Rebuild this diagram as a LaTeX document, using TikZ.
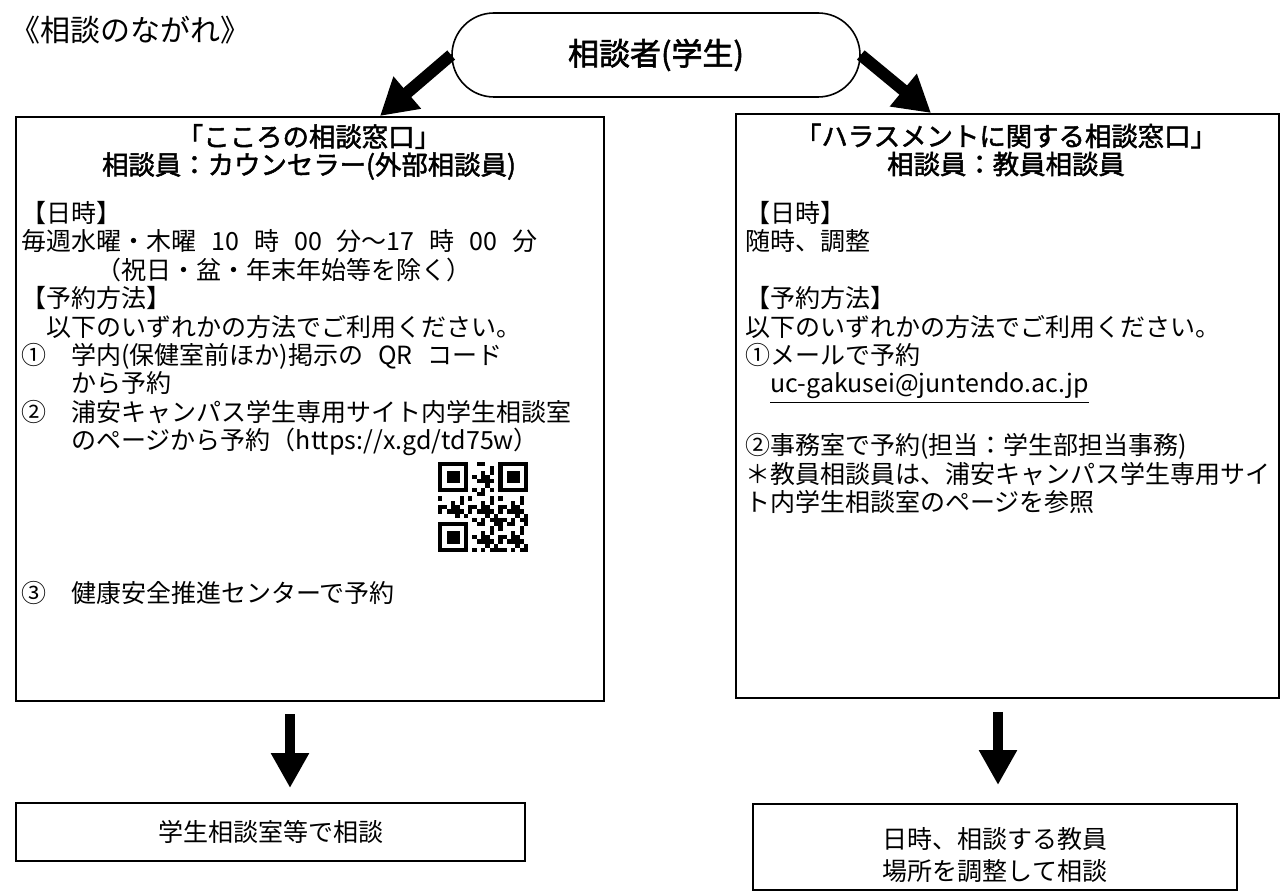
\documentclass[tikz,border=0pt]{standalone}
\usepackage{fontspec}
\setmainfont{Noto Sans CJK JP}
\newfontfamily\headfont[FakeBold=1.8]{Noto Sans CJK JP}
\usetikzlibrary{positioning,arrows.meta,shapes.misc}

\newcommand{\wsp}{\hspace{0.6em}}

\begin{document}
\begin{tikzpicture}[x=0.5pt, y=-0.5pt,
  every node/.style={inner sep=0pt},
  panel/.style={draw, line width=1pt, anchor=north west},
  headtext/.style={align=center, font=\fontsize{13.2}{14}\headfont},
  bodytext/.style={align=left, anchor=north west, font=\fontsize{12.5}{14.2}\selectfont},
  bigarrow/.style={line width=6pt, -{Triangle[width=20pt,length=18pt]}},
  downarrow/.style={line width=5pt, -{Triangle[width=18pt,length=17.5pt]}},
]
  \useasboundingbox (0,0) rectangle (1280,892);

  \node[anchor=west, font=\fontsize{15}{17}\selectfont] (title) at (10,30) {《相談のながれ》};
  \node[draw, rounded rectangle, line width=0.8pt, minimum width=204pt, minimum height=42pt,
    font=\fontsize{15.5}{17}\headfont] (person) at (656,55) {相談者(学生)};

  \node[panel, minimum width=294pt, minimum height=292pt] (kbox) at (15,116) {};
  \node[panel, minimum width=271.5pt, minimum height=292pt] (hbox) at (735,113) {};

  \node[headtext] (khead) at (309,152) {「こころの相談窓口」\\相談員：カウンセラー(外部相談員)};
  \node[headtext] (hhead) at (1006,150) {「ハラスメントに関する相談窓口」\\相談員：教員相談員};

  \node[bodytext] (kbody) at (21,201) {【日時】\\
    毎週水曜・木曜\wsp{}10\wsp{}時\wsp{}00\wsp{}分〜17\wsp{}時\wsp{}00\wsp{}分\\
    　　　（祝日・盆・年末年始等を除く）\\
    【予約方法】\\
    　以下のいずれかの方法でご利用ください。\\
    ①　学内(保健室前ほか)掲示の\wsp{}QR\wsp{}コード\\
    　　から予約\\
    ②　浦安キャンパス学生専用サイト内学生相談室\\
    　　のページから予約（https://x.gd/td75w）};
  \node[bodytext, anchor=west] (kthree) at (21,593) {③　健康安全推進センターで予約};

  \node[bodytext] (hbody) at (745,201) {【日時】\\
    随時、調整\\[14.2pt]
    【予約方法】\\
    以下のいずれかの方法でご利用ください。\\
    ①メールで予約\\
    　\underline{uc-gakusei@juntendo.ac.jp}\\[14.2pt]
    ②事務室で予約(担当：学生部担当事務)\\
    ＊教員相談員は、浦安キャンパス学生専用サイ\\
    ト内学生相談室のページを参照};

  \foreach \a/\b in {0/0,14/0,0/14}{
    \fill (438+\a*4.3,462+\b*4.3) rectangle ++(30.1,30.1);
    \fill[white] (442.3+\a*4.3,466.3+\b*4.3) rectangle ++(21.5,21.5);
    \fill (446.6+\a*4.3,470.6+\b*4.3) rectangle ++(12.9,12.9);
  }
  \foreach \i in {0,...,20}{
    \foreach \j in {0,...,20}{
      \pgfmathtruncatemacro\qfree{((\i>7) || (\j>7)) && ((\i<13) || (\j>7)) && ((\i>7) || (\j<13))}
      \pgfmathtruncatemacro\qbit{mod(3*\i*\i+7*\j+5*\i*\j+\j*\j+\i,7)<3}
      \ifnum\qfree\qbit=11\relax
        \fill (438+\i*4.3,462+\j*4.3) rectangle ++(4.3,4.3);
      \fi
    }
  }

  \node[panel, minimum width=254.5pt, minimum height=29pt, font=\fontsize{12.5}{14}\selectfont] (kres) at (15,802) {学生相談室等で相談};
  \node[panel, minimum width=242pt, minimum height=43pt] (hres) at (752,803) {};
  \node[align=center, font=\fontsize{12.5}{16}\selectfont] (hrestext) at ([yshift=-4pt]hres.center) {日時、相談する教員\\場所を調整して相談};

  \coordinate (kleft) at (380,116);
  \coordinate (hright) at (931,113);
  \coordinate (kdown) at (290,0);
  \coordinate (hdown) at (998,0);
  \draw[bigarrow] (person.west) -- (kleft);
  \draw[bigarrow] (person.east) -- (hright);
  \draw[downarrow, shorten <=6pt, shorten >=7pt] (kbox.south -| kdown) -- (kres.north -| kdown);
  \draw[downarrow, shorten <=6.5pt, shorten >=9pt] (hbox.south -| hdown) -- (hres.north -| hdown);
\end{tikzpicture}
\end{document}
